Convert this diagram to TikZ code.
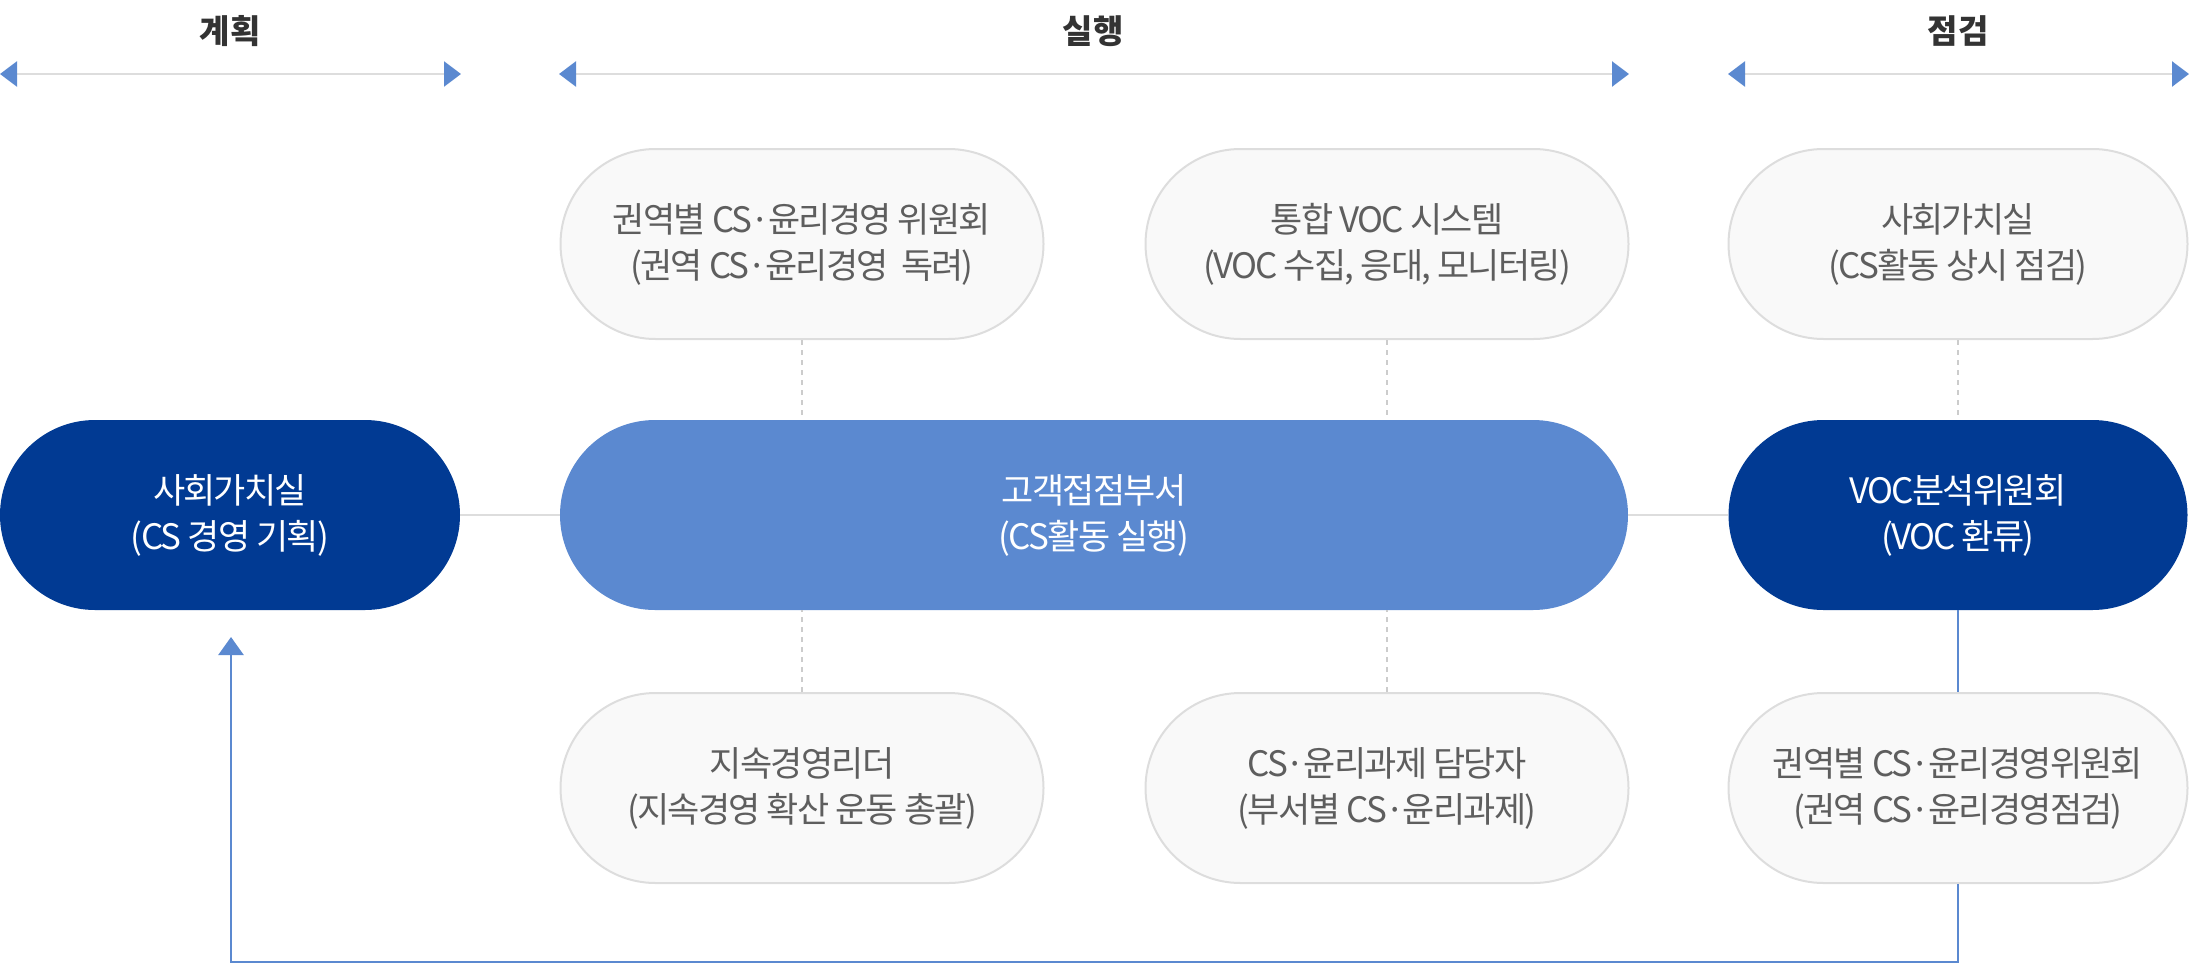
\documentclass[tikz,border=0pt]{standalone}
\usepackage{fontspec}
\setmainfont{Noto Sans CJK KR}
\newfontfamily\pillfont[LetterSpace=-5]{Noto Sans CJK KR}
\usetikzlibrary{arrows.meta}
\definecolor{darkblue}{HTML}{013A93}
\definecolor{midblue}{HTML}{5B89D0}
\definecolor{lightfill}{HTML}{F9F9F9}
\definecolor{lightline}{HTML}{DDDDDD}
\definecolor{dotline}{HTML}{CCCCCC}
\definecolor{txtgray}{HTML}{5E5E5E}
\definecolor{headtxt}{HTML}{333333}
\begin{document}
\begin{tikzpicture}[x=1pt,y=-1pt,
  pill/.style={rectangle, rounded corners=95pt, minimum height=190pt, align=center,
    font=\pillfont\fontsize{35}{46}\selectfont, inner sep=0pt},
  lightpill/.style={pill, fill=lightfill, draw=lightline, line width=2pt, text=txtgray},
  darkpill/.style={pill, fill=darkblue, text=white},
  midpill/.style={pill, fill=midblue, text=white},
  phase/.style={font=\fontsize{33}{38}\selectfont\bfseries, text=headtxt},
  span/.style={draw=lightline, line width=2.5pt,
    {Triangle[width=25pt,length=17pt,color=midblue]}-{Triangle[width=25pt,length=17pt,color=midblue]}},
  dotted link/.style={draw=dotline, line width=1.5pt, dash pattern=on 5pt off 5pt},
  gray link/.style={draw=lightline, line width=2pt},
  blue link/.style={draw=midblue, line width=2.5pt}
]
\useasboundingbox (0,0) rectangle (2189,964);

% phase headings
\node[phase] (hplan) at (230,31) {계획};
\node[phase] (hdo) at (1093,31) {실행};
\node[phase] (hcheck) at (1958,31) {점검};

% span arrows
\coordinate (a1l) at (0,74);
\coordinate (a1r) at (461,74);
\coordinate (a2l) at (559,74);
\coordinate (a2r) at (1629,74);
\coordinate (a3l) at (1728,74);
\coordinate (a3r) at (2189,74);
\draw[span] (a1l) -- (a1r);
\draw[span] (a2l) -- (a2r);
\draw[span] (a3l) -- (a3r);

% top row
\node[lightpill, minimum width=483pt] (t1) at (802,244) {권역별 CS·윤리경영 위원회\\(권역 CS·윤리경영\ \ 독려)};
\node[lightpill, minimum width=483pt] (t2) at (1387,244) {통합 VOC 시스템\\(VOC 수집, 응대, 모니터링)};
\node[lightpill, minimum width=459pt] (t3) at (1958,244) {사회가치실\\(CS활동 상시 점검)};

% middle row
\node[darkpill, minimum width=460pt] (m1) at (230,515) {사회가치실\\(CS 경영 기획)};
\node[midpill, minimum width=1068pt] (m2) at (1094,515) {고객접점부서\\(CS활동 실행)};
\node[darkpill, minimum width=459pt] (m3) at (1958,515) {VOC분석위원회\\(VOC 환류)};

% bottom row
\node[lightpill, minimum width=483pt] (b1) at (802,788) {지속경영리더\\(지속경영 확산 운동 총괄)};
\node[lightpill, minimum width=483pt] (b2) at (1387,788) {CS·윤리과제 담당자\\(부서별 CS·윤리과제)};
\node[lightpill, minimum width=459pt] (b3) at (1958,788) {권역별 CS·윤리경영위원회\\(권역 CS·윤리경영점검)};

% connectors
\draw[gray link] (m1.east) -- (m2.west);
\draw[gray link] (m2.east) -- (m3.west);
\draw[dotted link] (t1.south) -- (t1.south |- m2.north);
\draw[dotted link] (t2.south) -- (t2.south |- m2.north);
\draw[dotted link] (b1.north) -- (b1.north |- m2.south);
\draw[dotted link] (b2.north) -- (b2.north |- m2.south);
\draw[dotted link] (t3.south) -- (m3.north);
\draw[blue link] (m3.south) -- (b3.north);

\coordinate (fbtip) at (231,637);
\coordinate (fbcorner) at (231,962);
\draw[blue link, -{Triangle[width=25pt,length=18pt]}] (b3.south) -- (b3.south |- fbcorner) -- (fbcorner) -- (fbtip);
\end{tikzpicture}
\end{document}
